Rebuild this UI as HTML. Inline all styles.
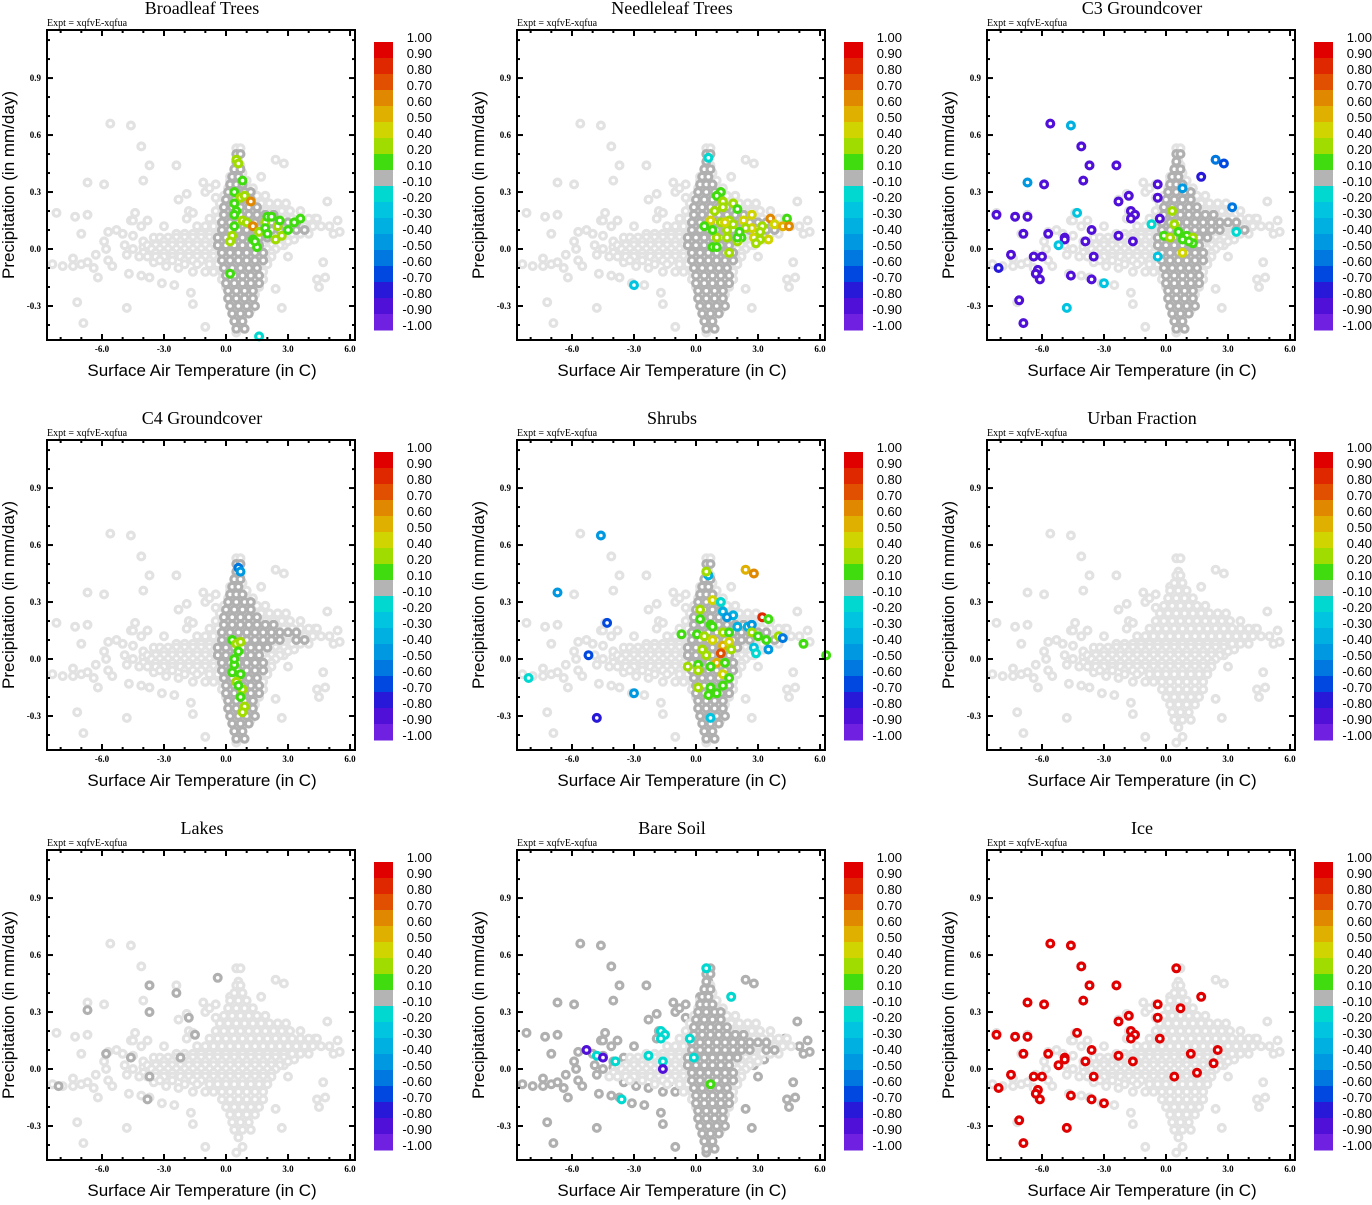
<!DOCTYPE html>
<html><head><meta charset="utf-8"><style>
html,body{margin:0;padding:0;background:#fff;}
svg text{font-family:"Liberation Sans",sans-serif;}
.serif{font-family:"Liberation Serif",serif;}
</style></head>
<body>
<svg id="fig" width="1372" height="1200" viewBox="0 0 1372 1200" xmlns="http://www.w3.org/2000/svg"></svg>
<script>
// ---------- data ----------
const panelTitles = ["Broadleaf Trees","Needleleaf Trees","C3 Groundcover","C4 Groundcover","Shrubs","Urban Fraction","Lakes","Bare Soil","Ice"];
const xTicks = [-6,-3,0,3,6];
const xTickLabels = ["-6.0","-3.0","0.0","3.0","6.0"];
const yTicks = [0.9,0.6,0.3,0,-0.3];
const yTickLabels = ["0.9","0.6","0.3","0.0","-0.3"];
const cbBounds = [1.0,0.9,0.8,0.7,0.6,0.5,0.4,0.2,0.1,-0.1,-0.2,-0.3,-0.4,-0.5,-0.6,-0.7,-0.8,-0.9,-1.0];
const cbLabels = ["1.00","0.90","0.80","0.70","0.60","0.50","0.40","0.20","0.10","-0.10","-0.20","-0.30","-0.40","-0.50","-0.60","-0.70","-0.80","-0.90","-1.00"];
const cbColors = ["#e00000","#e02800","#e05000","#e08800","#e0b000","#d0d400","#a0dc00","#40dc10","#b4b4b4","#00d8d0","#00c4e0","#00b0e0","#0098e0","#0078e0","#0048e0","#2818d8","#5010d8","#7020e0"];

// light background cloud: core rows (y, list of x)
const bgRowY = [0.44,0.40,0.36,0.32,0.28,0.24,0.20,0.16,0.12,0.08,0.06,0.04,0.02,0.00,-0.02,-0.04,-0.06,-0.08,-0.12,-0.16,-0.20,-0.24,-0.28,-0.32,-0.36];
const bgRowX = [
 [0.5,0.7],[0.4,0.8],[0.2,0.6,1.0],[0.1,0.5,0.9,1.3],[-0.1,0.3,0.7,1.1,1.5,1.9],
 [-0.3,0.1,0.5,0.9,1.3,1.7,2.1,2.5,2.9],
 [-0.5,-0.1,0.3,0.7,1.1,1.5,1.9,2.3,2.7,3.1,3.6],
 [-0.8,-0.4,0.0,0.4,0.8,1.2,1.6,2.0,2.4,2.8,3.2,3.6,4.0,4.4],
 [-1.4,-1.0,-0.6,-0.2,0.2,0.6,1.0,1.4,1.8,2.2,2.6,3.0,3.4,3.8,4.2,4.6],
 [-2.4,-2.0,-1.6,-1.2,-0.8,-0.4,0.0,0.4,0.8,1.2,1.6,2.0,2.4,2.8,3.2,3.6,4.0],
 [-3.2,-2.8,-2.4,-2.0,-1.6,-1.2,-0.8,-0.4,0.0,0.4,0.8,1.2,1.6,2.0,2.4,2.8],
 [-3.0,-2.6,-2.2,-1.8,-1.4,-1.0,-0.6,-0.2,0.2,0.6,1.0,1.4,1.8,2.2,2.6,3.0],
 [-3.8,-3.4,-3.0,-2.6,-2.2,-1.8,-1.4,-1.0,-0.6,-0.2,0.2,0.6,1.0,1.4,1.8,2.2,2.6],
 [-3.6,-3.2,-2.8,-2.4,-2.0,-1.6,-1.2,-0.8,-0.4,0.0,0.4,0.8,1.2,1.6,2.0,2.4],
 [-4.0,-3.4,-3.0,-2.6,-2.2,-1.8,-1.4,-1.0,-0.6,-0.2,0.2,0.6,1.0,1.4,1.8,2.2],
 [-4.2,-3.8,-3.4,-3.0,-2.6,-2.2,-1.8,-1.4,-1.0,-0.6,-0.2,0.2,0.6,1.0,1.4,1.8,2.2],
 [-3.2,-2.6,-2.0,-1.6,-1.2,-0.8,-0.4,0.0,0.4,0.8,1.2,1.6,2.0],
 [-2.0,-1.4,-0.8,-0.4,0.0,0.4,0.8,1.2,1.6,2.0],
 [-0.6,-0.2,0.2,0.6,1.0,1.4,1.8],[-0.2,0.2,0.6,1.0,1.4,1.8],[0.0,0.4,0.8,1.2,1.6],[0.2,0.6,1.0,1.4],[0.3,0.7,1.1],[0.4,0.8,1.2],[0.6]
];
// scattered background outliers [x,y]
const bgOut = [[-5.6,0.66],[-4.6,0.65],[-4.1,0.54],[-3.7,0.44],[-2.4,0.44],[-6.7,0.35],[-5.9,0.34],[-4.0,0.36],
 [-8.2,0.19],[-7.3,0.17],[-6.7,0.18],[-7.0,0.08],[-7.2,-0.28],[-6.9,-0.39],[-4.8,-0.31],[-1.0,-0.41],[0.8,-0.41],[0.5,-0.44],
 [2.7,-0.31],[2.4,-0.21],[4.5,-0.20],[4.4,-0.16],[4.8,-0.15],[4.7,-0.07],[4.9,0.25],[5.4,0.15],[5.5,0.09],[5.0,0.12],[5.2,0.08],
 [2.4,0.47],[2.8,0.45],[1.7,0.38],[0.5,0.53],[0.7,0.53],[0.6,0.46],[0.2,0.38],[-1.1,0.35],[-0.5,0.34],[-0.5,0.27],[-1.0,0.30],
 [-0.8,0.32],[-2.3,0.26],[-1.9,0.29],[-1.8,0.20],[-1.6,0.19],[-4.4,0.19],[-4.6,0.15],[-4.5,0.15],[-3.8,0.15],[-3.0,0.12],
 [-1.9,0.16],[-4.1,0.12],[-5.7,0.09],[-5.3,0.10],[-5.0,0.08],[-5.9,0.04],[-5.8,0.0],[-6.3,-0.03],[-7.4,-0.05],[-7.9,-0.09],
 [-8.4,-0.08],[-7.4,-0.09],[-7.0,-0.08],[-6.7,-0.07],[-6.2,-0.15],[-6.4,-0.10],[-5.5,-0.09],[-5.7,-0.06],[-4.8,-0.03],
 [-4.7,-0.13],[-4.1,-0.14],[-3.7,-0.15],[-3.1,-0.18],[-2.5,-0.19],[-1.7,-0.23],[-1.6,-0.29],[-4.9,0.02],[-4.5,0.0],[-4.0,0.01],
 [-4.5,0.07],[-4.0,0.04],[-3.5,0.06],[-3.2,0.03],[-2.8,0.02],[-2.3,0.03],[-3.5,-0.07],[-2.9,-0.09],[-2.3,-0.1],[-1.6,-0.12],
 [-1.0,-0.12],[-0.5,-0.1],[-1.3,-0.07],[-0.8,-0.05],[3.9,0.12],[4.3,0.16],[3.3,0.05],[2.8,0.02],[3.0,-0.04]];
// dark grey column (near-zero values), rows
const colRowY = [0.50,0.46,0.42,0.38,0.34,0.30,0.26,0.22,0.18,0.14,0.10,0.06,0.02,-0.02,-0.06,-0.10,-0.14,-0.18,-0.22,-0.26,-0.30,-0.34,-0.38,-0.42];
const colRowX = [
 [0.5,0.7],[0.5],[0.4,0.7],[0.3,0.6],[0.2,0.5,0.8],[0.1,0.5,0.9,1.2],[0.0,0.4,0.8,1.2],[-0.1,0.3,0.7,1.1,1.5],
 [-0.1,0.3,0.7,1.1,1.5,1.9,2.3],[-0.2,0.2,0.6,1.0,1.4,1.8,2.2,2.6,3.0,3.4],[-0.2,0.2,0.6,1.0,1.4,1.8,2.2,2.6,3.4,3.8],
 [-0.4,0.0,0.4,0.8,1.2,1.6,2.0],[-0.4,0.0,0.4,0.8,1.2,1.6],[-0.2,0.2,0.6,1.0,1.4,1.8],[-0.2,0.2,0.6,1.0,1.4,1.8],[-0.1,0.3,0.7,1.1,1.5],
 [0.0,0.4,0.8,1.2,1.6],[0.0,0.4,0.8,1.2,1.6],[0.1,0.5,0.9,1.3],[0.1,0.5,0.9,1.3],[0.2,0.6,1.0,1.4],[0.3,0.7,1.1],[0.4,0.8],[0.5,0.9]
];
const lakesDark = [[-6.7,0.31],[-3.7,0.44],[-3.7,0.30],[-2.4,0.40],[-1.8,0.27],[-0.4,0.48],[-5.8,0.08],[-4.6,0.06],[-2.2,0.06],[-3.7,-0.04],[-3.8,-0.16],[-8.1,-0.09],[-1.5,0.18]];
// coloured points per panel [x,y,value]
const p1Pts = [[0.5,0.47,0.3],[0.6,0.45,0.3],[0.8,0.36,0.15],[0.4,0.30,0.15],[0.7,0.27,0.3],[0.9,0.28,0.3],[1.2,0.25,0.65],
 [0.4,0.24,0.15],[0.5,0.20,0.15],[0.4,0.18,0.15],[0.8,0.15,0.3],[1.0,0.14,0.3],[1.3,0.12,0.65],[0.4,0.12,0.15],[0.3,0.07,0.3],
 [0.2,0.04,0.3],[1.6,0.09,0.3],[1.9,0.14,0.3],[2.0,0.17,0.15],[2.2,0.17,0.15],[1.9,0.11,0.15],[2.0,0.08,0.15],[1.3,0.05,0.15],
 [1.5,0.01,0.15],[1.4,0.04,0.15],[2.4,0.05,0.3],[2.7,0.07,0.3],[2.5,0.12,0.3],[2.6,0.15,0.15],[3.0,0.10,0.15],[3.3,0.14,0.15],
 [3.6,0.16,0.15],[0.2,-0.13,0.15],[1.6,-0.46,-0.15]];
const p2Pts = [[0.6,0.48,-0.15],[-3.0,-0.19,-0.25],[1.2,0.30,0.15],[1.0,0.28,0.15],[1.3,0.25,0.3],[1.8,0.24,0.3],[2.0,0.21,0.15],
 [0.9,0.20,0.3],[1.3,0.22,0.3],[0.7,0.15,0.45],[0.4,0.12,0.15],[1.5,0.10,0.3],[1.2,0.14,0.3],[1.6,0.15,0.3],[2.3,0.15,0.45],
 [2.7,0.18,0.45],[2.7,0.11,0.45],[3.2,0.12,0.3],[3.6,0.16,0.65],[3.8,0.13,0.45],[4.4,0.16,0.15],[4.2,0.12,0.55],[4.5,0.12,0.65],
 [2.8,0.06,0.45],[3.5,0.05,0.45],[3.1,0.05,0.3],[2.9,0.03,0.3],[1.0,0.06,0.3],[1.5,0.06,0.3],[2.2,0.06,0.15],[0.8,0.01,0.15],
 [1.0,0.01,0.15],[2.0,0.04,0.3],[1.6,-0.02,0.3],[0.8,0.10,0.15],[2.4,0.11,0.3],[3.1,0.09,0.3],[2.0,0.06,0.15],[2.1,0.09,0.15],
 [1.8,0.13,0.3],[1.4,0.14,0.45]];
const p3Pts = [[-5.6,0.66,-0.85],[-4.1,0.54,-0.85],[-3.7,0.44,-0.85],[-2.4,0.44,-0.85],[-4.0,0.36,-0.85],[-5.9,0.34,-0.85],
 [-8.2,0.18,-0.85],[-7.3,0.17,-0.85],[-6.7,0.17,-0.85],[-6.9,0.08,-0.85],[-5.7,0.08,-0.85],[-4.9,0.06,-0.85],[-4.9,0.05,-0.85],
 [-3.6,0.10,-0.85],[-3.9,0.04,-0.85],[-2.3,0.07,-0.85],[-1.6,0.04,-0.85],[-2.3,0.25,-0.85],[-1.8,0.28,-0.85],[-1.7,0.20,-0.85],
 [-1.5,0.18,-0.85],[-1.7,0.16,-0.85],[-0.4,0.34,-0.85],[-0.4,0.27,-0.85],[-0.3,0.16,-0.85],[-7.5,-0.03,-0.85],[-6.4,-0.04,-0.85],
 [-6.0,-0.04,-0.85],[-8.1,-0.10,-0.75],[-6.2,-0.11,-0.85],[-6.3,-0.13,-0.85],[-6.1,-0.16,-0.85],[-4.6,-0.14,-0.85],[-3.5,-0.04,-0.85],
 [-3.6,-0.16,-0.85],[-7.1,-0.27,-0.85],[-6.9,-0.39,-0.85],[1.7,0.38,-0.75],[2.4,0.47,-0.55],[2.8,0.45,-0.65],[3.2,0.22,-0.55],
 [-4.6,0.65,-0.35],[-6.7,0.35,-0.45],[-4.3,0.19,-0.25],[-5.2,0.02,-0.25],[-3.0,-0.18,-0.25],[-4.8,-0.31,-0.25],[-0.7,0.13,-0.15],
 [-0.4,-0.04,-0.25],[3.4,0.09,-0.15],[0.8,0.32,-0.45],[0.3,0.20,0.3],[0.4,0.13,0.3],[-0.1,0.07,0.15],[0.2,0.06,0.3],[0.6,0.09,0.15],
 [1.0,0.07,0.15],[0.8,0.05,0.15],[1.3,0.06,0.3],[1.3,0.03,0.15],[1.1,0.04,0.15],[0.8,-0.02,0.45]];
const p4Pts = [[0.6,0.48,-0.55],[0.7,0.46,-0.45],[0.3,0.10,0.15],[0.5,0.08,0.3],[0.6,0.04,0.15],[0.7,0.09,0.3],[0.4,-0.03,0.15],
 [0.3,-0.07,0.15],[0.7,-0.08,0.15],[0.5,-0.12,0.3],[0.8,-0.16,0.3],[0.7,-0.20,0.15],[0.9,-0.25,0.3],[0.8,-0.28,0.3],[0.6,-0.14,0.15],[0.4,0.0,0.15]];
const p5Pts = [[-4.6,0.65,-0.45],[-6.7,0.35,-0.45],[-4.3,0.19,-0.65],[-5.2,0.02,-0.65],[-8.1,-0.10,-0.15],[-3.0,-0.18,-0.45],
 [-4.8,-0.31,-0.75],[0.6,0.44,-0.35],[0.5,0.46,0.3],[2.4,0.47,0.55],[2.8,0.45,0.65],[3.2,0.22,0.85],[3.5,0.21,0.15],[0.8,0.31,0.45],
 [1.2,0.30,-0.15],[0.2,0.26,0.3],[1.3,0.25,-0.35],[1.8,0.23,-0.35],[1.5,0.22,-0.45],[0.2,0.21,0.15],[0.7,0.18,0.15],[0.8,0.17,0.15],
 [2.0,0.17,-0.35],[2.5,0.17,-0.35],[2.7,0.18,-0.45],[-0.7,0.13,0.15],[0.05,0.13,0.15],[1.3,0.14,0.3],[1.6,0.14,0.15],[2.7,0.14,0.3],
 [3.0,0.12,0.15],[3.4,0.10,0.15],[4.0,0.12,0.3],[4.2,0.11,-0.55],[5.2,0.08,0.15],[6.3,0.02,0.15],[3.5,0.05,-0.45],[2.8,0.06,-0.25],
 [2.9,0.03,-0.15],[0.4,0.12,0.3],[0.8,0.10,0.45],[0.3,0.05,0.3],[1.3,0.07,0.55],[1.6,0.09,0.45],[1.7,0.05,0.3],[1.2,0.03,0.75],
 [1.0,-0.02,0.55],[0.5,0.02,0.3],[-0.4,-0.04,0.3],[0.1,-0.03,0.15],[0.1,-0.06,0.3],[0.7,-0.04,0.15],[1.4,-0.02,0.15],[1.3,-0.08,0.45],
 [1.6,-0.10,0.15],[1.3,-0.14,0.15],[0.1,-0.15,0.3],[0.7,-0.15,0.15],[0.6,-0.19,0.15],[1.0,-0.18,0.15],[0.7,-0.31,-0.25]];
const p6Pts = [];
const p7Pts = [];
const p8Pts = [[0.5,0.53,-0.15],[1.7,0.38,-0.15],[-1.7,0.20,-0.15],[-1.5,0.18,-0.15],[-1.7,0.16,-0.15],[-0.3,0.16,-0.15],
 [-0.1,0.06,-0.15],[-2.3,0.07,-0.15],[-1.6,0.04,-0.15],[-3.9,0.04,-0.15],[-4.8,0.07,-0.15],[-3.6,-0.16,-0.15],
 [-5.3,0.10,-0.85],[-4.5,0.06,-0.85],[-1.6,0.0,-0.85],[0.7,-0.08,0.15]];
const p9Pts = [[-5.6,0.66,0.95],[-4.6,0.65,0.95],[-4.1,0.54,0.95],[-3.7,0.44,0.95],[-2.4,0.44,0.95],[-4.0,0.36,0.95],[-5.9,0.34,0.95],
 [-6.7,0.35,0.95],[-8.2,0.18,0.95],[-7.3,0.17,0.95],[-6.7,0.17,0.95],[-6.9,0.08,0.95],[-5.7,0.08,0.95],[-4.9,0.06,0.95],[-4.9,0.05,0.95],
 [-3.6,0.10,0.95],[-3.9,0.04,0.95],[-2.3,0.07,0.95],[-1.6,0.04,0.95],[-2.3,0.25,0.95],[-1.8,0.28,0.95],[-1.7,0.20,0.95],[-1.5,0.18,0.95],
 [-1.7,0.16,0.95],[-0.4,0.34,0.95],[-0.4,0.27,0.95],[-0.3,0.16,0.95],[-7.5,-0.03,0.95],[-6.4,-0.04,0.95],[-6.0,-0.04,0.95],
 [-8.1,-0.10,0.95],[-6.2,-0.11,0.95],[-6.3,-0.13,0.95],[-6.1,-0.16,0.95],[-4.6,-0.14,0.95],[-3.5,-0.04,0.95],[-3.6,-0.16,0.95],
 [-7.1,-0.27,0.95],[-6.9,-0.39,0.95],[-4.8,-0.31,0.95],[-3.0,-0.18,0.95],[-4.3,0.19,0.95],[-5.2,0.02,0.95],[0.5,0.53,0.95],
 [1.7,0.38,0.95],[0.7,0.32,0.95],[1.2,0.08,0.95],[2.5,0.10,0.95],[2.3,0.03,0.95],[1.5,-0.02,0.95],[0.4,-0.04,0.95]];
const panelPts = [p1Pts,p2Pts,p3Pts,p4Pts,p5Pts,p6Pts,p7Pts,p8Pts,p9Pts];
const panelHasColumn = [true,true,true,true,true,false,false,true,false];

// ---------- drawing ----------
const NS = "http://www.w3.org/2000/svg";
const svg = document.getElementById('fig');
const X0=47, Y0=30, W=308, H=310;
const XMIN=-8.66, XMAX=6.24, YMIN=-0.479, YMAX=1.153;
function mk(tag, attrs, parent){ const e=document.createElementNS(NS,tag); for(const k in attrs) e.setAttribute(k,attrs[k]); (parent||svg).appendChild(e); return e; }
function colorFor(v){ for(let i=0;i<cbColors.length;i++){ if(v<=cbBounds[i] && v>cbBounds[i+1]) return cbColors[i]; } return v>1?cbColors[0]:cbColors[cbColors.length-1]; }

for(let p=0;p<9;p++){
  const ox=(p%3)*470, oy=Math.floor(p/3)*410;
  const sx = x => ox + X0 + (x-XMIN)/(XMAX-XMIN)*W;
  const sy = y => oy + Y0 + (YMAX-y)/(YMAX-YMIN)*H;
  const g = mk('g',{});
  
  

  const t = mk('text',{x:ox+202,y:oy+14,'text-anchor':'middle','font-size':'18',class:'serif'},g);
  t.textContent = panelTitles[p];
  
  
  const ex = mk('text',{x:ox+47,y:oy+26,'font-size':'10',class:'serif'},g);
  ex.textContent = "Expt = xqfvE-xqfua";
  
  

  const pg = mk('g',{},g);
  
  
  function ring(x,y,col){ const c=mk('circle',{cx:sx(x).toFixed(1),cy:sy(y).toFixed(1),r:3.4,fill:'#fff',stroke:col,'stroke-width':3.2},pg);
      return c; }
  const outCol = (p===7) ? '#b0b0b0' : '#e2e2e2';
  bgOut.forEach(d=>ring(d[0],d[1],outCol));
  bgRowY.forEach((y,i)=>bgRowX[i].forEach(x=>ring(x,y,'#e2e2e2')));
  if(panelHasColumn[p]) colRowY.forEach((y,i)=>colRowX[i].forEach(x=>ring(x,y,'#b0b0b0')));
  if(p===6) lakesDark.forEach(d=>ring(d[0],d[1],'#b0b0b0'));
  panelPts[p].forEach(d=>ring(d[0],d[1],colorFor(d[2])));

  const fr = mk('rect',{x:ox+X0,y:oy+Y0,width:W,height:H,fill:'none',stroke:'#000','stroke-width':2},g);
  
  
  for(let v=-8;v<=6;v++){
    const major = xTicks.includes(v); const L = major?6:3; const xx=sx(v);
    mk('line',{x1:xx,x2:xx,y1:oy+Y0+H,y2:oy+Y0+H-L,stroke:'#000','stroke-width':2},g);
    mk('line',{x1:xx,x2:xx,y1:oy+Y0,y2:oy+Y0+L,stroke:'#000','stroke-width':2},g);
  }
  xTicks.forEach((v,i)=>{ const tl=mk('text',{x:sx(v),y:oy+352,'text-anchor':'middle','font-size':'9','font-weight':'bold',class:'serif'},g);
    tl.textContent=xTickLabels[i];   });
  for(let k=-4;k<=11;k++){
    const v=k/10; const major = [9,6,3,0,-3].includes(k); const L=major?6:3; const yy=sy(v);
    mk('line',{x1:ox+X0,x2:ox+X0+L,y1:yy,y2:yy,stroke:'#000','stroke-width':2},g);
    mk('line',{x1:ox+X0+W,x2:ox+X0+W-L,y1:yy,y2:yy,stroke:'#000','stroke-width':2},g);
  }
  yTicks.forEach((v,i)=>{ const tl=mk('text',{x:ox+41,y:sy(v)+3,'text-anchor':'end','font-size':'9','font-weight':'bold',class:'serif'},g);
    tl.textContent=yTickLabels[i];   });
  const xl = mk('text',{x:ox+202,y:oy+376,'text-anchor':'middle','font-size':'17'},g);
  xl.textContent="Surface Air Temperature (in C)";
   
  const yl = mk('text',{x:0,y:0,'text-anchor':'middle','font-size':'17',transform:`translate(${ox+14},${oy+185}) rotate(-90)`},g);
  yl.textContent="Precipitation (in mm/day)";
   

  const cb = mk('g',{},g);
  
  
  cbColors.forEach((c,i)=>{ const r=mk('rect',{x:ox+374,y:oy+42+i*16,width:19,height:16.5,fill:c},cb);
      });
  cbLabels.forEach((s,i)=>{ const tl=mk('text',{x:ox+432,y:oy+42+i*16,'text-anchor':'end','font-size':'13'},cb);
    tl.textContent=s;   });
}
</script>
</body></html>
